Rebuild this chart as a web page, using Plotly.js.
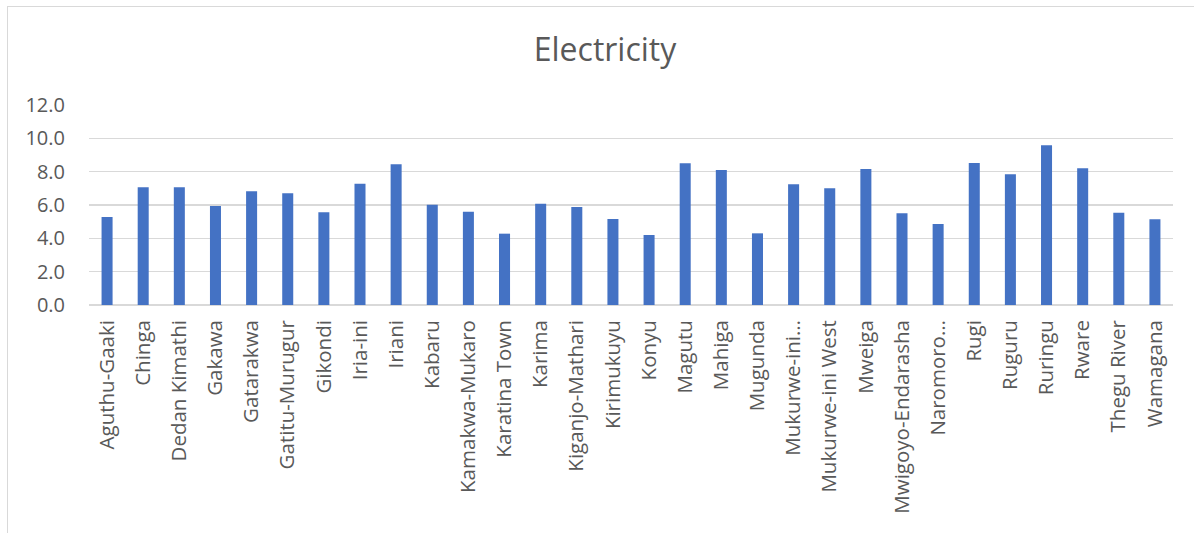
<!DOCTYPE html>
<html>
<head>
<meta charset="utf-8">
<script src="https://cdn.plot.ly/plotly-3.0.1.min.js"></script>
<style>
  html, body { margin: 0; padding: 0; background: #ffffff; overflow: hidden; }
  #wrap { position: relative; width: 1194px; height: 533px; }
  #chart { position: absolute; left: 0; top: 0; width: 1194px; height: 533px; }
  /* chart-area frame, open to the right and bottom */
  #frame { position: absolute; left: 7px; top: 6px; width: 1220px; height: 600px;
           border: 1.3px solid #d9d9d9; pointer-events: none; }
</style>
</head>
<body>
<div id="wrap">
  <div id="chart"></div>
  <div id="frame"></div>
</div>
<script>
// Wards and their electricity scores
const wards = [
  "Aguthu-Gaaki", "Chinga", "Dedan Kimathi", "Gakawa", "Gatarakwa",
  "Gatitu-Murugur", "Gikondi", "Iria-ini", "Iriani", "Kabaru",
  "Kamakwa-Mukaro", "Karatina Town", "Karima", "Kiganjo-Mathari", "Kirimukuyu",
  "Konyu", "Magutu", "Mahiga", "Mugunda", "Mukurwe-ini…",
  "Mukurwe-ini West", "Mweiga", "Mwigoyo-Endarasha", "Naromoro…", "Rugi",
  "Ruguru", "Ruringu", "Rware", "Thegu River", "Wamagana"
];
const electricity = [
  5.28, 7.06, 7.06, 5.94, 6.82,
  6.70, 5.56, 7.28, 8.44, 6.02,
  5.60, 4.28, 6.08, 5.88, 5.16,
  4.20, 8.50, 8.10, 4.30, 7.24,
  7.00, 8.16, 5.50, 4.86, 8.52,
  7.84, 9.58, 8.20, 5.54, 5.14
];
const yTicks = [0, 2, 4, 6, 8, 10, 12];
const yTickText = ["0.0", "2.0", "4.0", "6.0", "8.0", "10.0", "12.0"];

const textColor = "#595959";
const gridColor = "#d9d9d9";
const font = "'Open Sans', 'DejaVu Sans', sans-serif";

const trace = {
  type: "bar",
  x: wards,
  y: electricity,
  marker: { color: "#4472c4", line: { width: 0 } },
  hoverinfo: "x+y"
};

const layout = {
  width: 1194,
  height: 533,
  margin: { l: 89, r: 21, t: 105, b: 228, pad: 0 },
  paper_bgcolor: "rgba(0,0,0,0)",
  plot_bgcolor: "#ffffff",
  showlegend: false,
  bargap: 0.695,
  title: {
    text: "Electricity",
    font: { family: font, size: 32, color: textColor },
    xref: "container",
    yref: "container",
    x: 605 / 1194,
    xanchor: "center",
    y: 1 - 50 / 533,
    yanchor: "middle"
  },
  xaxis: {
    type: "category",
    tickangle: -90,
    tickfont: { family: font, size: 20.5, color: textColor },
    showgrid: false,
    showline: false,
    ticks: "",
    ticklabelstandoff: 10,
    fixedrange: true
  },
  yaxis: {
    range: [0, 12],
    tickvals: yTicks,
    ticktext: yTickText,
    tickfont: { family: font, size: 20, color: textColor },
    showgrid: true,
    gridcolor: gridColor,
    gridwidth: 1.3,
    zeroline: true,
    zerolinecolor: gridColor,
    zerolinewidth: 1.3,
    showline: false,
    ticks: "",
    ticklabelstandoff: 23,
    fixedrange: true
  }
};

Plotly.newPlot("chart", [trace], layout, { displayModeBar: false, staticPlot: true });
</script>
</body>
</html>
